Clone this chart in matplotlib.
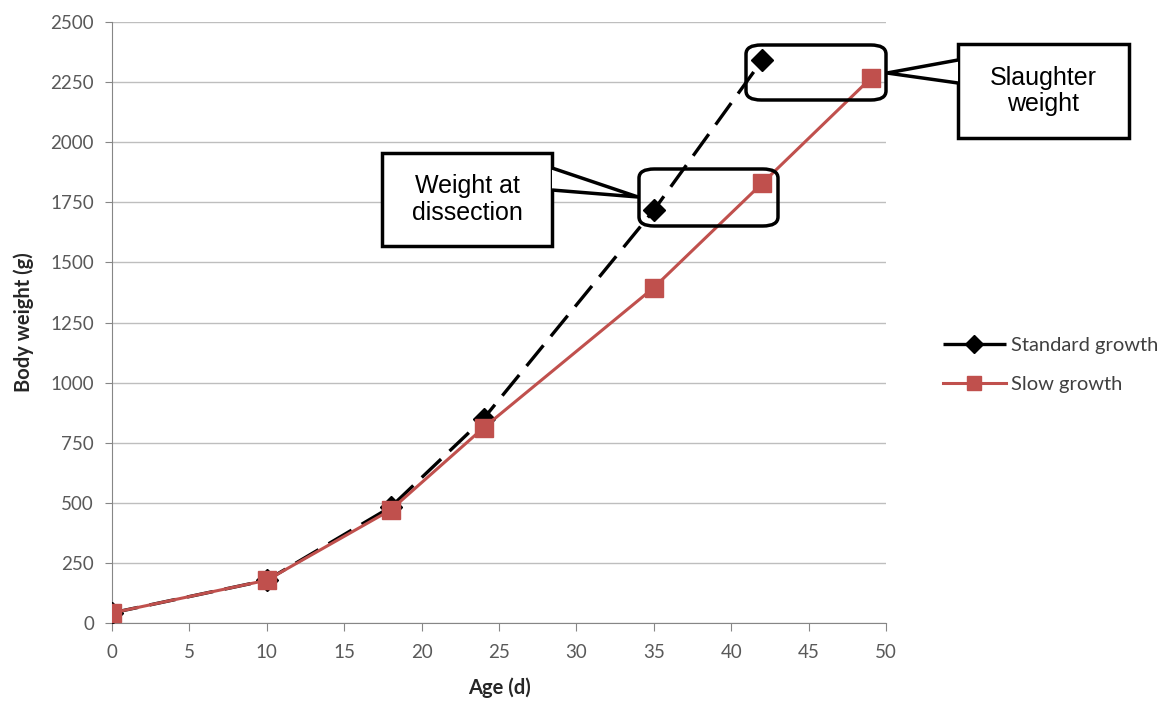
import numpy as np
import matplotlib.pyplot as plt
from matplotlib.patches import FancyBboxPatch, Rectangle, Polygon

# datos
edad_std = [0, 10, 18, 24, 35, 42]
peso_std = [42, 178, 482, 850, 1717, 2341]
edad_slow = [0, 10, 18, 24, 35, 42, 49]
peso_slow = [42, 178, 470, 812, 1395, 1829, 2265]
yticks = [0, 250, 500, 750, 1000, 1250, 1500, 1750, 2000, 2250, 2500]
xticks = [0, 5, 10, 15, 20, 25, 30, 35, 40, 45, 50]

W, H = 1169, 702
fig = plt.figure(figsize=(W / 100, H / 100), dpi=100)
ax = fig.add_axes([112 / W, 1 - 623 / H, (886 - 112) / W, (623 - 22) / H])

gris = '#868686'
ax.plot(edad_std, peso_std, color='black', lw=2.4, ls=(0, (8, 3.5)), marker='D',
        ms=11, label='Standard growth', zorder=3)
ax.plot(edad_slow, peso_slow, color='#C0504D', lw=2.2, marker='s', ms=13,
        label='Slow growth', zorder=4)

ax.set_xlim(0, 50)
ax.set_ylim(0, 2500)
ax.set_xticks(xticks)
ax.set_yticks(yticks)
ax.grid(True, axis='y', color='#BEBEBE', lw=1)
ax.set_axisbelow(True)
for s in ['top', 'right']:
    ax.spines[s].set_visible(False)
ax.spines['left'].set_color(gris)
ax.spines['bottom'].set_color(gris)
ax.tick_params(axis='x', colors='#595959', labelsize=13.5, length=6, direction='out', pad=9)
ax.tick_params(axis='y', colors='#595959', labelsize=13.5, length=5, direction='out', pad=8)
ax.tick_params(color=gris)
for lab in ax.get_xticklabels() + ax.get_yticklabels():
    lab.set_family('Lato')
ax.set_xlabel('Age (d)', fontsize=14.5, fontweight='bold', family='Lato', color='#262626', va='center')
ax.set_ylabel('Body weight (g)', fontsize=14.5, fontweight='bold', family='Lato', color='#262626', va='center')
ax.xaxis.set_label_coords(0.5, (623 - 688) / 601)
ax.yaxis.set_label_coords((24 - 112) / 774, 0.5)

leg = fig.legend(loc='center left', bbox_to_anchor=(925 / W, 1 - 365 / H), frameon=False,
                 handlelength=3.1, handletextpad=0.25, labelspacing=1.05, markerscale=0.8,
                 prop={'family': 'Lato', 'size': 14.5})
for t in leg.get_texts():
    t.set_color('#404040')


def fx(px):
    return px / W


def fy(py):
    return 1 - py / H


# recuadros redondeados alrededor de los puntos
for (x0, y0, x1, y1) in [(639, 169, 778, 226), (746, 45, 886, 100)]:
    fig.patches.append(FancyBboxPatch((fx(x0), fy(y1)), fx(x1 - x0), (y1 - y0) / H,
                                      boxstyle='round,pad=0,rounding_size=0.013',
                                      transform=fig.transFigure, fill=False,
                                      ec='black', lw=2.5, zorder=10))

# llamadas con texto
llamadas = [
    ((382, 153, 552, 246), [(552, 168), (638, 197), (552, 190)], 'Weight at\ndissection'),
    ((958, 44, 1129, 138), [(958, 60), (887, 73), (958, 83)], 'Slaughter\nweight'),
]
for (x0, y0, x1, y1), cuna, texto in llamadas:
    fig.patches.append(Rectangle((fx(x0), fy(y1)), fx(x1 - x0), (y1 - y0) / H,
                                 transform=fig.transFigure, fc='white', ec='black',
                                 lw=2.5, zorder=11))
    fig.patches.append(Polygon([(fx(a), fy(b)) for a, b in cuna], closed=False,
                               transform=fig.transFigure, fc='white', ec='black',
                               lw=2.5, zorder=12, joinstyle='miter'))
    fig.text(fx((x0 + x1) / 2), fy((y0 + y1) / 2), texto, ha='center', va='center',
             fontsize=18, family='Liberation Sans', zorder=13, linespacing=1.15)

fig.savefig('out.png', dpi=100)
